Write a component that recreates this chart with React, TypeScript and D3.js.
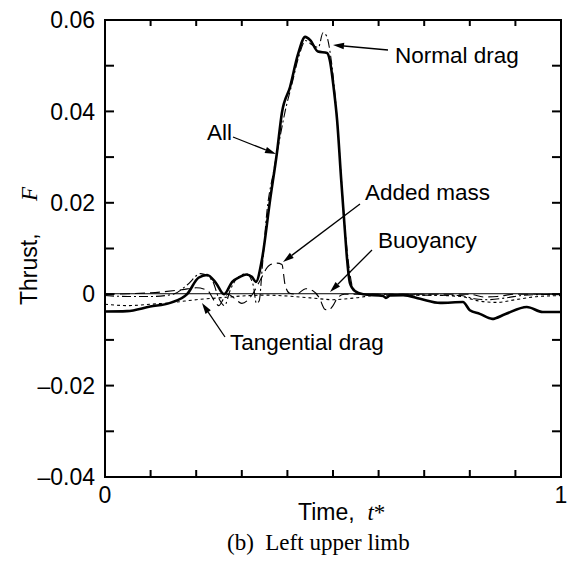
import React from "react";
import * as d3 from "d3";

// ---- data ----
const allT = [0, 0.048, 0.099, 0.143, 0.18, 0.205, 0.224, 0.243, 0.261, 0.279, 0.296, 0.31, 0.322, 0.331, 0.344, 0.362, 0.377, 0.388, 0.406, 0.423, 0.439, 0.45, 0.467, 0.487, 0.493, 0.502, 0.509, 0.518, 0.526, 0.531, 0.537, 0.548, 0.566, 0.61, 0.616, 0.625, 0.654, 0.691, 0.735, 0.785, 0.8, 0.822, 0.849, 0.877, 0.925, 0.96, 1.0];
const allV = [-0.0038, -0.0037, -0.0027, -0.0019, 0.0, 0.0036, 0.0042, 0.0025, 0.0, 0.0027, 0.0038, 0.0043, 0.0038, 0.0027, 0.0075, 0.0206, 0.0309, 0.0397, 0.0454, 0.0524, 0.0563, 0.0556, 0.0531, 0.0528, 0.0512, 0.0447, 0.0381, 0.025, 0.014, 0.0075, 0.0025, 0.0007, 0.0, -0.0004, -0.0008, -0.0003, -0.0002, -0.001, -0.0019, -0.0017, -0.0035, -0.0043, -0.0054, -0.0044, -0.0028, -0.0039, -0.0039];

const normalT = [0, 0.05, 0.1, 0.15, 0.18, 0.21, 0.235, 0.25, 0.262, 0.275, 0.29, 0.31, 0.325, 0.332, 0.338, 0.345, 0.355, 0.37, 0.385, 0.395, 0.41, 0.425, 0.44, 0.455, 0.468, 0.478, 0.486, 0.495, 0.505, 0.515, 0.525, 0.535, 0.545, 0.56, 0.6, 0.7, 0.78, 0.81, 0.84, 0.88, 0.92, 1.0];
const normalV = [-0.0003, -0.0005, -0.0005, 0.0, 0.002, 0.0045, 0.003, -0.001, -0.0025, 0.001, 0.0035, 0.0045, 0.002, -0.002, -0.0015, 0.006, 0.018, 0.027, 0.035, 0.04, 0.046, 0.052, 0.0555, 0.0545, 0.054, 0.0572, 0.0565, 0.052, 0.043, 0.03, 0.016, 0.006, 0.001, 0.0, 0.0, -0.0002, -0.0003, -0.001, -0.0012, -0.0008, -0.0002, 0.0];

const addedT = [0, 0.1, 0.17, 0.2, 0.225, 0.24, 0.25, 0.26, 0.27, 0.285, 0.3, 0.32, 0.34, 0.36, 0.377, 0.388, 0.395, 0.405, 0.42, 0.44, 0.455, 0.47, 0.482, 0.49, 0.5, 0.51, 0.525, 0.6, 0.75, 0.8, 0.83, 0.86, 0.9, 1.0];
const addedV = [0, 0.0003, 0.001, 0.0014, 0.0008, -0.0015, -0.0025, -0.001, 0.0, -0.001, -0.002, -0.0005, 0.003, 0.0063, 0.0068, 0.0065, 0.002, 0.0002, 0.0, 0.0012, 0.0008, -0.0008, -0.0033, -0.0035, -0.0025, -0.0008, 0.0, 0.0, 0.0, 0.0, -0.0006, -0.0005, 0.0, 0.0];

const tangT = [0, 0.05, 0.1, 0.15, 0.2, 0.25, 0.3, 0.35, 0.45, 0.5, 0.55, 0.6, 0.7, 0.78, 0.82, 0.86, 0.9, 0.95, 1.0];
const tangV = [-0.0022, -0.0025, -0.0022, -0.0018, -0.0012, -0.0008, -0.0004, -0.0002, -0.0008, -0.0012, -0.0008, -0.0002, -0.0002, -0.0005, -0.0015, -0.0018, -0.0012, -0.0005, -0.0003];

const buoyT = [0, 0.25, 0.5, 0.75, 1.0];
const buoyV = [0.0001, 0.0001, 0.0001, 0.0001, 0.0001];

const yTicksLabeled = [0.06, 0.04, 0.02, 0, -0.02, -0.04];
const yTickLabels = ["0.06", "0.04", "0.02", "0", "\u20130.02", "\u20130.04"];
const xTicksLabeled = [0, 1];
const xTickLabels = ["0", "1"];

const W = 569;
const H = 569;
const L = 105, R = 561, T = 20, B = 477;

export default function App() {
  const x = d3.scaleLinear().domain([0, 1]).range([L, R]);
  const y = d3.scaleLinear().domain([-0.04, 0.06]).range([B, T]);
  const mk = (ts: number[], vs: number[]) =>
    d3.line<number>()
      .x((_, i) => x(ts[i]))
      .y((v) => y(v))
      .curve(d3.curveMonotoneX)(vs) || "";

  const xMinor = d3.range(0, 1.0001, 0.1);
  const yMinor = d3.range(-0.04, 0.06001, 0.01);
  const sans = "Liberation Sans, Arial, sans-serif";
  const serif = "Liberation Serif, Times New Roman, serif";

  const arrow = (x1: number, y1: number, x2: number, y2: number, key: string) => {
    const ang = Math.atan2(y2 - y1, x2 - x1);
    const len = 11, hw = 3.2;
    const bx = x2 - len * Math.cos(ang), by = y2 - len * Math.sin(ang);
    const px = -Math.sin(ang) * hw, py = Math.cos(ang) * hw;
    return (
      <g key={key}>
        <line x1={x1} y1={y1} x2={bx} y2={by} stroke="#000" strokeWidth={1.3} />
        <polygon points={`${x2},${y2} ${bx + px},${by + py} ${bx - px},${by - py}`} fill="#000" />
      </g>
    );
  };

  return (
    <svg width={W} height={H} style={{ position: "absolute", left: 0, top: 0, background: "#fff" }}>
      <rect x={0} y={0} width={W} height={H} fill="#fff" />
      {/* curves */}
      <path d={mk(buoyT, buoyV)} fill="none" stroke="#000" strokeWidth={1} />
      <path d={mk(tangT, tangV)} fill="none" stroke="#000" strokeWidth={1.1} strokeDasharray="3,3" />
      <path d={mk(addedT, addedV)} fill="none" stroke="#000" strokeWidth={1.1} strokeDasharray="10,5" />
      <path d={mk(normalT, normalV)} fill="none" stroke="#000" strokeWidth={1.1} strokeDasharray="9,3,2,3" />
      <path d={mk(allT, allV)} fill="none" stroke="#000" strokeWidth={2.6} strokeLinejoin="round" />

      {/* frame */}
      <rect x={L} y={T} width={R - L} height={B - T} fill="none" stroke="#000" strokeWidth={2} />
      {xMinor.map((t, i) => (
        <g key={"xt" + i}>
          <line x1={x(t)} x2={x(t)} y1={B} y2={B - 7} stroke="#000" strokeWidth={2} />
          <line x1={x(t)} x2={x(t)} y1={T} y2={T + 6} stroke="#000" strokeWidth={2} />
        </g>
      ))}
      {yMinor.map((v, i) => (
        <g key={"yt" + i}>
          <line x1={L} x2={L + 9} y1={y(v)} y2={y(v)} stroke="#000" strokeWidth={2} />
          <line x1={R} x2={R - 9} y1={y(v)} y2={y(v)} stroke="#000" strokeWidth={2} />
        </g>
      ))}
      {yTicksLabeled.map((v, i) => (
        <text key={"yl" + i} x={L - 10} y={y(v)} dy="0.36em" textAnchor="end" fontFamily={sans} fontSize={23}>
          {yTickLabels[i]}
        </text>
      ))}
      {xTicksLabeled.map((t, i) => (
        <text key={"xl" + i} x={x(t)} y={503} textAnchor="middle" fontFamily={sans} fontSize={23}>
          {xTickLabels[i]}
        </text>
      ))}

      {/* axis titles */}
      <text x={298} y={520} textAnchor="start" fontFamily={sans} fontSize={23}>
        Time,&#160;&#160;<tspan fontFamily={serif} fontStyle="italic">t</tspan><tspan fontFamily={serif}>*</tspan>
      </text>
      <text transform="translate(37,305) rotate(-90)" textAnchor="start" fontFamily={sans} fontSize={23}>
        Thrust,
      </text>
      <text transform="translate(37,201) rotate(-90)" textAnchor="start" fontFamily={serif} fontStyle="italic" fontSize={23}>
        F
      </text>
      <text x={227} y={550} textAnchor="start" fontFamily={serif} fontSize={23}>
        (b)&#160;&#160;Left upper limb
      </text>

      {/* annotations */}
      <text x={395} y={63} fontFamily={sans} fontSize={22.5}>Normal drag</text>
      {arrow(388, 50, 333, 45, "a1")}
      <text x={207} y={140} fontFamily={sans} fontSize={22.5}>All</text>
      {arrow(233, 137, 276, 154, "a2")}
      <text x={365} y={200} fontFamily={sans} fontSize={22.5}>Added mass</text>
      {arrow(360, 204, 283, 262, "a3")}
      <text x={378} y={248} fontFamily={sans} fontSize={22.5}>Buoyancy</text>
      {arrow(372, 250, 330, 292, "a4")}
      <text x={230} y={350} fontFamily={sans} fontSize={22.5}>Tangential drag</text>
      {arrow(225, 337, 202, 303, "a5")}
    </svg>
  );
}
